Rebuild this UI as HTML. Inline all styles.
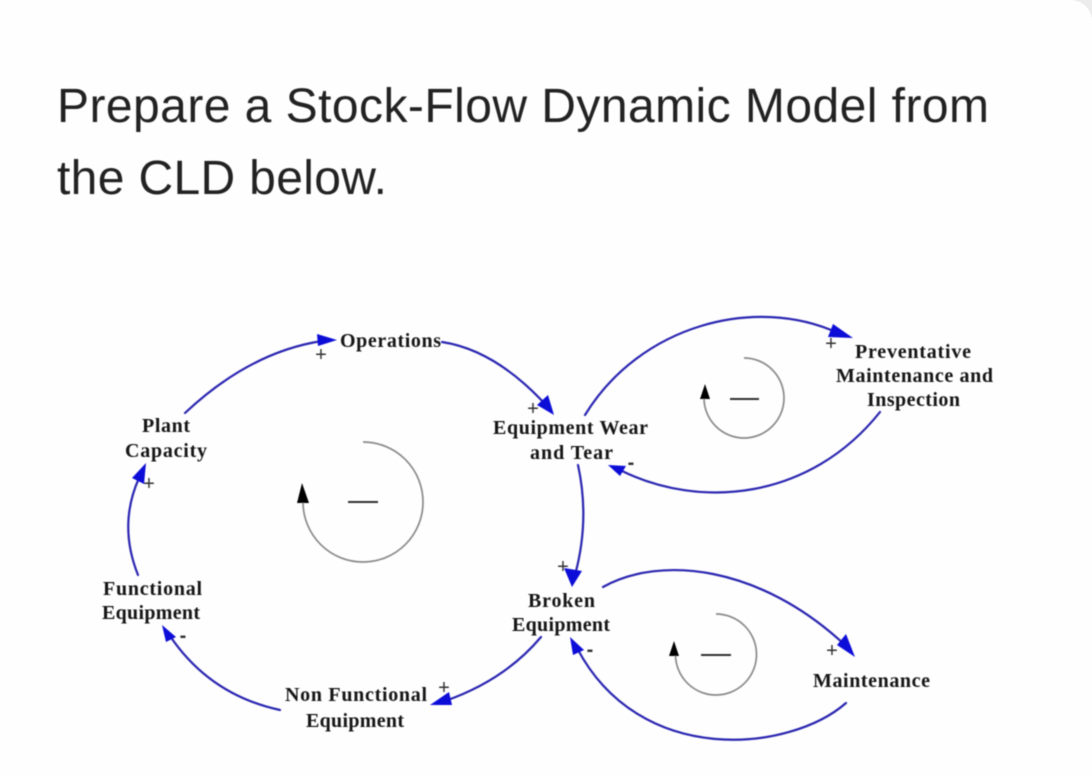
<!DOCTYPE html>
<html lang="en">
<head>
<meta charset="utf-8">
<title>Stock-Flow CLD</title>
<style>
html,body{margin:0;padding:0;background:#fefefe;width:1092px;height:775px;overflow:hidden}
svg{display:block}
.t{font-family:"Liberation Sans",sans-serif;font-size:48px;fill:#222}
.l{font-family:"Liberation Serif",serif;font-size:20px;font-weight:bold;fill:#141414}
.s{font-family:"Liberation Sans",sans-serif;font-size:20px;fill:#333;text-anchor:middle}
.m{font-family:"Liberation Sans",sans-serif;font-size:20px;font-weight:bold;fill:#333;text-anchor:middle}
.c{fill:none;stroke:#2a25b0;stroke-width:2.2;stroke-linecap:round}
.h{fill:#0a0ad8;stroke:none}
.o{fill:none;stroke:#8a8a8a;stroke-width:1.7}
.d{stroke:#333;stroke-width:2}
</style>
</head>
<body>
<svg width="1092" height="775" viewBox="0 0 1092 775" xmlns="http://www.w3.org/2000/svg">
<defs><filter id="b" x="-5%" y="-5%" width="110%" height="110%"><feGaussianBlur stdDeviation="0.45"/></filter></defs>
<rect width="1092" height="775" fill="#fefefe"/>
<path d="M1072 0 Q1088 2 1092 18 L1092 0 Z" fill="#ececec"/>
<g filter="url(#b)">
<text class="t" x="57" y="122" textLength="932" lengthAdjust="spacing">Prepare a Stock-Flow Dynamic Model from</text>
<text class="t" x="57" y="194" textLength="330" lengthAdjust="spacing">the CLD below.</text>

<!-- connectors -->
<path class="c" d="M185 413 Q250 352 322 341"/>
<path class="c" d="M442 342 Q495 350 545 404"/>
<path class="c" d="M585 415 C640 325 755 295 838 333"/>
<path class="c" d="M880 412 C810 500 700 510 620 470"/>
<path class="c" d="M578 465 Q590 520 575 575"/>
<path class="c" d="M541 637 Q505 680 445 701"/>
<path class="c" d="M280 710 Q210 695 170 636"/>
<path class="c" d="M138 575 Q118 525 139 478"/>
<path class="c" d="M603 587 C660 555 760 565 846 646"/>
<path class="c" d="M846 703 C790 752 640 768 577 648"/>

<!-- arrowheads -->
<polygon class="h" points="337,340 317,334 318,346"/>
<polygon class="h" points="554,415 537,405 548,395"/>
<polygon class="h" points="853,338 833,324 828,337"/>
<polygon class="h" points="608,465 626,466 620,476"/>
<polygon class="h" points="572,587 564,568 582,571"/>
<polygon class="h" points="430,705 449,692 452,705"/>
<polygon class="h" points="162,625 176,637 166,642"/>
<polygon class="h" points="146,463 132,478 144,484"/>
<polygon class="h" points="855,657 846,634 837,645"/>
<polygon class="h" points="570,637 584,650 573,655"/>

<!-- loop markers -->
<path class="o" d="M363 442 A60 60 0 1 1 303 502"/>
<polygon points="302,483 297,503 309,503" fill="#000"/>
<line class="d" x1="348" y1="502" x2="378" y2="502"/>
<path class="o" d="M744 358 A40 40 0 1 1 704 398"/>
<polygon points="705,384 700,399 710,399" fill="#000"/>
<line class="d" x1="730" y1="399" x2="759" y2="399"/>
<path class="o" d="M716 614 A40.500 40.500 0 1 1 675.500 655"/>
<polygon points="674,641 669,656 679,656" fill="#000"/>
<line class="d" x1="701" y1="655" x2="731" y2="655"/>

<!-- labels -->
<text class="l" x="340" y="347" textLength="101">Operations</text>
<text class="l" x="142" y="432" textLength="48">Plant</text>
<text class="l" x="125" y="457" textLength="82">Capacity</text>
<text class="l" x="493" y="434" textLength="155">Equipment Wear</text>
<text class="l" x="530" y="459" textLength="83">and Tear</text>
<text class="l" x="855" y="358" textLength="116">Preventative</text>
<text class="l" x="836" y="382" textLength="157">Maintenance and</text>
<text class="l" x="867" y="406" textLength="93">Inspection</text>
<text class="l" x="103" y="595" textLength="99">Functional</text>
<text class="l" x="102" y="619" textLength="98">Equipment</text>
<text class="l" x="285" y="701" textLength="142">Non Functional</text>
<text class="l" x="306" y="727" textLength="98">Equipment</text>
<text class="l" x="528" y="607" textLength="67">Broken</text>
<text class="l" x="512" y="631" textLength="98">Equipment</text>
<text class="l" x="813" y="687" textLength="117">Maintenance</text>

<!-- polarity signs -->
<text class="s" x="321" y="361">+</text>
<text class="s" x="533" y="415">+</text>
<text class="s" x="149" y="490">+</text>
<text class="s" x="831" y="350">+</text>
<text class="s" x="563" y="573">+</text>
<text class="s" x="444" y="694">+</text>
<text class="s" x="832" y="657">+</text>
<text class="m" x="631" y="469">-</text>
<text class="m" x="183" y="642">-</text>
<text class="m" x="590" y="656">-</text>
</g>
</svg>
</body>
</html>
